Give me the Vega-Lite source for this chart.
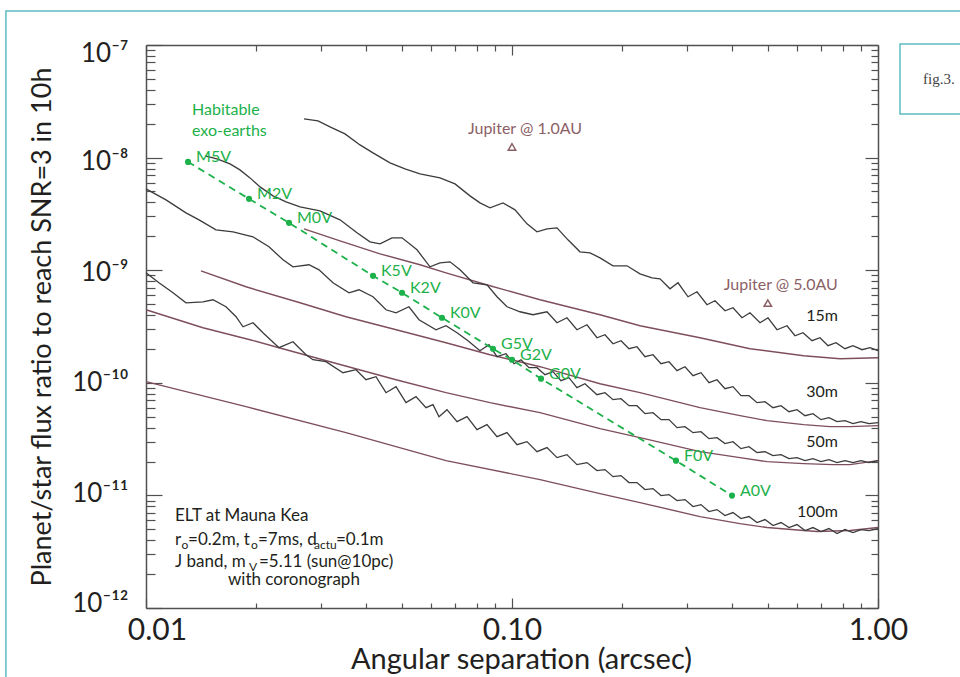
{
"$schema": "https://vega.github.io/schema/vega-lite/v6.json",
"width": 732, "height": 563,
"autosize": {"type": "none"},
"padding": {"left": 146, "top": 45, "right": 82, "bottom": 69},
"background": "white",
"config": {"view": {"stroke": null}, "font": "Lato"},
"datasets": {
"black": [
{"t":"15m","x":0.02702,"y":2.205e-8},{"t":"15m","x":0.02951,"y":2.117e-8},{"t":"15m","x":0.03182,"y":1.873e-8},{"t":"15m","x":0.03497,"y":1.623e-8},{"t":"15m","x":0.03843,"y":1.296e-8},{"t":"15m","x":0.04171,"y":1.101e-8},{"t":"15m","x":0.04642,"y":8.974e-9},{"t":"15m","x":0.05101,"y":7.939e-9},{"t":"15m","x":0.05606,"y":7.168e-9},{"t":"15m","x":0.06357,"y":6.605e-9},{"t":"15m","x":0.06987,"y":5.843e-9},{"t":"15m","x":0.07677,"y":4.573e-9},{"t":"15m","x":0.08176,"y":3.963e-9},{"t":"15m","x":0.08707,"y":3.578e-9},{"t":"15m","x":0.09449,"y":3.963e-9},{"t":"15m","x":0.10191,"y":3.435e-9},{"t":"15m","x":0.1099,"y":2.581e-9},{"t":"15m","x":0.11703,"y":2.192e-9},{"t":"15m","x":0.12463,"y":2.33e-9},{"t":"15m","x":0.13271,"y":2.378e-9},{"t":"15m","x":0.1422,"y":1.861e-9},{"t":"15m","x":0.15335,"y":1.456e-9},{"t":"15m","x":0.16332,"y":1.427e-9},{"t":"15m","x":0.17396,"y":1.288e-9},{"t":"15m","x":0.18877,"y":1.094e-9},{"t":"15m","x":0.20617,"y":1.094e-9},{"t":"15m","x":0.22373,"y":9.291e-10},{"t":"15m","x":0.24128,"y":8.562e-10},{"t":"15m","x":0.25375,"y":8.389e-10},{"t":"15m","x":0.27021,"y":6.839e-10},{"t":"15m","x":0.28417,"y":7.731e-10},{"t":"15m","x":0.30261,"y":5.808e-10},{"t":"15m","x":0.32025,"y":6.432e-10},{"t":"15m","x":0.34104,"y":4.932e-10},{"t":"15m","x":0.35862,"y":5.352e-10},{"t":"15m","x":0.38192,"y":4.363e-10},{"t":"15m","x":0.40163,"y":4.639e-10},{"t":"15m","x":0.425,"y":3.782e-10},{"t":"15m","x":0.44696,"y":4.188e-10},{"t":"15m","x":0.47602,"y":3.414e-10},{"t":"15m","x":0.50056,"y":3.782e-10},{"t":"15m","x":0.52975,"y":2.959e-10},{"t":"15m","x":0.56414,"y":3.211e-10},{"t":"15m","x":0.59326,"y":2.618e-10},{"t":"15m","x":0.62389,"y":2.783e-10},{"t":"15m","x":0.66019,"y":2.364e-10},{"t":"15m","x":0.6943,"y":2.513e-10},{"t":"15m","x":0.73016,"y":2.134e-10},{"t":"15m","x":0.76772,"y":2.269e-10},{"t":"15m","x":0.81253,"y":2.007e-10},{"t":"15m","x":0.85447,"y":2.134e-10},{"t":"15m","x":0.90429,"y":1.967e-10},{"t":"15m","x":0.95095,"y":2.049e-10},{"t":"15m","x":1.0,"y":1.927e-10},
{"t":"30m","x":0.0145,"y":1.035e-8},{"t":"30m","x":0.01563,"y":9.763e-9},{"t":"30m","x":0.01696,"y":8.793e-9},{"t":"30m","x":0.01806,"y":7.778e-9},{"t":"30m","x":0.01924,"y":6.605e-9},{"t":"30m","x":0.02049,"y":5.495e-9},{"t":"30m","x":0.02224,"y":4.573e-9},{"t":"30m","x":0.02414,"y":4.045e-9},{"t":"30m","x":0.02635,"y":3.652e-9},{"t":"30m","x":0.02988,"y":3.366e-9},{"t":"30m","x":0.03389,"y":2.8e-9},{"t":"30m","x":0.03771,"y":2.147e-9},{"t":"30m","x":0.04092,"y":1.787e-9},{"t":"30m","x":0.04359,"y":1.715e-9},{"t":"30m","x":0.04701,"y":1.939e-9},{"t":"30m","x":0.05006,"y":1.939e-9},{"t":"30m","x":0.05501,"y":1.517e-9},{"t":"30m","x":0.05969,"y":1.072e-9},{"t":"30m","x":0.06357,"y":1.163e-9},{"t":"30m","x":0.0677,"y":1.187e-9},{"t":"30m","x":0.07211,"y":1.008e-9},{"t":"30m","x":0.07824,"y":7.731e-10},{"t":"30m","x":0.08545,"y":7.421e-10},{"t":"30m","x":0.09099,"y":5.808e-10},{"t":"30m","x":0.0969,"y":4.735e-10},{"t":"30m","x":0.10516,"y":4.275e-10},{"t":"30m","x":0.11412,"y":4.021e-10},{"t":"30m","x":0.12463,"y":4.275e-10},{"t":"30m","x":0.13271,"y":3.414e-10},{"t":"30m","x":0.14131,"y":3.782e-10},{"t":"30m","x":0.15048,"y":2.959e-10},{"t":"30m","x":0.16027,"y":3.278e-10},{"t":"30m","x":0.17067,"y":2.513e-10},{"t":"30m","x":0.1795,"y":2.672e-10},{"t":"30m","x":0.18877,"y":2.223e-10},{"t":"30m","x":0.19853,"y":2.364e-10},{"t":"30m","x":0.20872,"y":2.007e-10},{"t":"30m","x":0.2195,"y":2.091e-10},{"t":"30m","x":0.23087,"y":1.705e-10},{"t":"30m","x":0.24279,"y":1.776e-10},{"t":"30m","x":0.25532,"y":1.477e-10},{"t":"30m","x":0.26851,"y":1.539e-10},{"t":"30m","x":0.28237,"y":1.281e-10},{"t":"30m","x":0.29696,"y":1.39e-10},{"t":"30m","x":0.31228,"y":1.156e-10},{"t":"30m","x":0.3284,"y":1.229e-10},{"t":"30m","x":0.34534,"y":1.002e-10},{"t":"30m","x":0.36317,"y":1.065e-10},{"t":"30m","x":0.38192,"y":8.865e-11},{"t":"30m","x":0.40163,"y":9.235e-11},{"t":"30m","x":0.42236,"y":7.684e-11},{"t":"30m","x":0.44417,"y":7.684e-11},{"t":"30m","x":0.4671,"y":6.66e-11},{"t":"30m","x":0.49121,"y":6.797e-11},{"t":"30m","x":0.51656,"y":6.013e-11},{"t":"30m","x":0.54321,"y":6.264e-11},{"t":"30m","x":0.57124,"y":5.541e-11},{"t":"30m","x":0.60073,"y":5.772e-11},{"t":"30m","x":0.63176,"y":5.106e-11},{"t":"30m","x":0.66436,"y":5.319e-11},{"t":"30m","x":0.69866,"y":4.706e-11},{"t":"30m","x":0.73471,"y":4.902e-11},{"t":"30m","x":0.77263,"y":4.517e-11},{"t":"30m","x":0.81253,"y":4.61e-11},{"t":"30m","x":0.85447,"y":4.336e-11},{"t":"30m","x":0.89855,"y":4.517e-11},{"t":"30m","x":0.94493,"y":4.336e-11},{"t":"30m","x":1.0,"y":4.426e-11},
{"t":"50m","x":0.01,"y":5.276e-9},{"t":"50m","x":0.01134,"y":4.214e-9},{"t":"50m","x":0.01286,"y":3.231e-9},{"t":"50m","x":0.01396,"y":2.8e-9},{"t":"50m","x":0.01553,"y":2.283e-9},{"t":"50m","x":0.01729,"y":2.192e-9},{"t":"50m","x":0.0196,"y":1.979e-9},{"t":"50m","x":0.02168,"y":1.613e-9},{"t":"50m","x":0.02368,"y":1.237e-9},{"t":"50m","x":0.02521,"y":1.072e-9},{"t":"50m","x":0.02788,"y":1.117e-9},{"t":"50m","x":0.0297,"y":1.008e-9},{"t":"50m","x":0.03242,"y":7.731e-10},{"t":"50m","x":0.03586,"y":6.302e-10},{"t":"50m","x":0.03819,"y":6.701e-10},{"t":"50m","x":0.04171,"y":5.808e-10},{"t":"50m","x":0.04526,"y":4.453e-10},{"t":"50m","x":0.04821,"y":4.188e-10},{"t":"50m","x":0.0523,"y":4.735e-10},{"t":"50m","x":0.05571,"y":3.63e-10},{"t":"50m","x":0.06199,"y":2.959e-10},{"t":"50m","x":0.06602,"y":3.211e-10},{"t":"50m","x":0.07076,"y":2.783e-10},{"t":"50m","x":0.07581,"y":2.364e-10},{"t":"50m","x":0.08176,"y":1.927e-10},{"t":"50m","x":0.08653,"y":2.178e-10},{"t":"50m","x":0.09099,"y":1.705e-10},{"t":"50m","x":0.09629,"y":1.812e-10},{"t":"50m","x":0.10127,"y":1.477e-10},{"t":"50m","x":0.10582,"y":1.603e-10},{"t":"50m","x":0.11129,"y":1.362e-10},{"t":"50m","x":0.11703,"y":1.362e-10},{"t":"50m","x":0.12307,"y":1.18e-10},{"t":"50m","x":0.12942,"y":1.255e-10},{"t":"50m","x":0.13609,"y":1.044e-10},{"t":"50m","x":0.1431,"y":1.11e-10},{"t":"50m","x":0.15048,"y":9.048e-11},{"t":"50m","x":0.15827,"y":9.818e-11},{"t":"50m","x":0.17067,"y":7.842e-11},{"t":"50m","x":0.1795,"y":8.169e-11},{"t":"50m","x":0.18877,"y":7.08e-11},{"t":"50m","x":0.19853,"y":7.227e-11},{"t":"50m","x":0.20872,"y":6.264e-11},{"t":"50m","x":0.2195,"y":6.264e-11},{"t":"50m","x":0.23087,"y":5.319e-11},{"t":"50m","x":0.24279,"y":5.429e-11},{"t":"50m","x":0.25532,"y":4.706e-11},{"t":"50m","x":0.26851,"y":4.706e-11},{"t":"50m","x":0.28237,"y":3.996e-11},{"t":"50m","x":0.29696,"y":4.078e-11},{"t":"50m","x":0.31228,"y":3.608e-11},{"t":"50m","x":0.3284,"y":3.683e-11},{"t":"50m","x":0.34534,"y":3.192e-11},{"t":"50m","x":0.36317,"y":3.258e-11},{"t":"50m","x":0.38192,"y":2.882e-11},{"t":"50m","x":0.40163,"y":3.002e-11},{"t":"50m","x":0.42236,"y":2.602e-11},{"t":"50m","x":0.44417,"y":2.71e-11},{"t":"50m","x":0.4671,"y":2.398e-11},{"t":"50m","x":0.49121,"y":2.447e-11},{"t":"50m","x":0.51656,"y":2.255e-11},{"t":"50m","x":0.54321,"y":2.302e-11},{"t":"50m","x":0.57124,"y":2.121e-11},{"t":"50m","x":0.60073,"y":2.165e-11},{"t":"50m","x":0.63176,"y":2.036e-11},{"t":"50m","x":0.66436,"y":2.121e-11},{"t":"50m","x":0.69866,"y":1.995e-11},{"t":"50m","x":0.73471,"y":2.078e-11},{"t":"50m","x":0.77263,"y":1.955e-11},{"t":"50m","x":0.81253,"y":2.036e-11},{"t":"50m","x":0.85447,"y":1.955e-11},{"t":"50m","x":0.89855,"y":2.036e-11},{"t":"50m","x":0.94493,"y":1.955e-11},{"t":"50m","x":1.0,"y":2.036e-11},
{"t":"100m","x":0.01,"y":9.483e-10},{"t":"100m","x":0.01085,"y":7.731e-10},{"t":"100m","x":0.01185,"y":6.302e-10},{"t":"100m","x":0.01286,"y":5.137e-10},{"t":"100m","x":0.01431,"y":5.243e-10},{"t":"100m","x":0.01524,"y":5.462e-10},{"t":"100m","x":0.01654,"y":4.735e-10},{"t":"100m","x":0.01762,"y":3.86e-10},{"t":"100m","x":0.01841,"y":3.146e-10},{"t":"100m","x":0.0196,"y":3.414e-10},{"t":"100m","x":0.02087,"y":2.783e-10},{"t":"100m","x":0.02309,"y":2.049e-10},{"t":"100m","x":0.02521,"y":2.316e-10},{"t":"100m","x":0.02736,"y":1.776e-10},{"t":"100m","x":0.02859,"y":1.603e-10},{"t":"100m","x":0.03103,"y":1.539e-10},{"t":"100m","x":0.03453,"y":1.229e-10},{"t":"100m","x":0.03748,"y":1.307e-10},{"t":"100m","x":0.03991,"y":1.065e-10},{"t":"100m","x":0.0425,"y":1.133e-10},{"t":"100m","x":0.04526,"y":8.169e-11},{"t":"100m","x":0.04821,"y":9.235e-11},{"t":"100m","x":0.05133,"y":6.66e-11},{"t":"100m","x":0.05466,"y":7.528e-11},{"t":"100m","x":0.05821,"y":6.013e-11},{"t":"100m","x":0.06083,"y":6.393e-11},{"t":"100m","x":0.06318,"y":5.003e-11},{"t":"100m","x":0.06644,"y":5.772e-11},{"t":"100m","x":0.07076,"y":4.517e-11},{"t":"100m","x":0.07534,"y":5.003e-11},{"t":"100m","x":0.08023,"y":3.836e-11},{"t":"100m","x":0.08545,"y":4.249e-11},{"t":"100m","x":0.09099,"y":3.325e-11},{"t":"100m","x":0.0969,"y":3.608e-11},{"t":"100m","x":0.10319,"y":2.823e-11},{"t":"100m","x":0.1099,"y":3.002e-11},{"t":"100m","x":0.11703,"y":2.447e-11},{"t":"100m","x":0.12463,"y":2.656e-11},{"t":"100m","x":0.13271,"y":2.165e-11},{"t":"100m","x":0.14131,"y":2.302e-11},{"t":"100m","x":0.15048,"y":1.876e-11},{"t":"100m","x":0.16027,"y":1.955e-11},{"t":"100m","x":0.17067,"y":1.66e-11},{"t":"100m","x":0.1795,"y":1.694e-11},{"t":"100m","x":0.18877,"y":1.468e-11},{"t":"100m","x":0.19853,"y":1.499e-11},{"t":"100m","x":0.20872,"y":1.299e-11},{"t":"100m","x":0.2195,"y":1.299e-11},{"t":"100m","x":0.23087,"y":1.126e-11},{"t":"100m","x":0.24279,"y":1.149e-11},{"t":"100m","x":0.25532,"y":9.96e-12},{"t":"100m","x":0.26851,"y":1.017e-11},{"t":"100m","x":0.28237,"y":8.993e-12},{"t":"100m","x":0.29696,"y":9.178e-12},{"t":"100m","x":0.31228,"y":7.955e-12},{"t":"100m","x":0.3284,"y":8.287e-12},{"t":"100m","x":0.34534,"y":7.183e-12},{"t":"100m","x":0.36317,"y":7.482e-12},{"t":"100m","x":0.38192,"y":6.619e-12},{"t":"100m","x":0.40163,"y":7.037e-12},{"t":"100m","x":0.42236,"y":6.226e-12},{"t":"100m","x":0.44417,"y":6.485e-12},{"t":"100m","x":0.4671,"y":5.737e-12},{"t":"100m","x":0.49121,"y":6.1e-12},{"t":"100m","x":0.51656,"y":5.396e-12},{"t":"100m","x":0.54321,"y":5.737e-12},{"t":"100m","x":0.57124,"y":5.18e-12},{"t":"100m","x":0.60073,"y":5.507e-12},{"t":"100m","x":0.63176,"y":4.872e-12},{"t":"100m","x":0.66436,"y":5.18e-12},{"t":"100m","x":0.69866,"y":4.773e-12},{"t":"100m","x":0.73471,"y":5.075e-12},{"t":"100m","x":0.77263,"y":4.582e-12},{"t":"100m","x":0.81253,"y":4.973e-12},{"t":"100m","x":0.85447,"y":4.677e-12},{"t":"100m","x":0.89855,"y":4.973e-12},{"t":"100m","x":0.94493,"y":4.872e-12},{"t":"100m","x":1.0,"y":5.075e-12}
],
"maroon": [
{"t":"15m","x":0.02702,"y":2.33e-9},{"t":"15m","x":0.03389,"y":1.823e-9},{"t":"15m","x":0.04359,"y":1.398e-9},{"t":"15m","x":0.05606,"y":1.117e-9},{"t":"15m","x":0.06602,"y":9.483e-10},{"t":"15m","x":0.08707,"y":7.271e-10},{"t":"15m","x":0.11926,"y":5.462e-10},{"t":"15m","x":0.17396,"y":4.021e-10},{"t":"15m","x":0.22373,"y":3.211e-10},{"t":"15m","x":0.32635,"y":2.513e-10},{"t":"15m","x":0.44696,"y":2.007e-10},{"t":"15m","x":0.62649,"y":1.74e-10},{"t":"15m","x":0.78741,"y":1.636e-10},{"t":"15m","x":1.0,"y":1.67e-10},
{"t":"30m","x":0.01413,"y":9.879e-10},{"t":"30m","x":0.01876,"y":7.124e-10},{"t":"30m","x":0.02635,"y":5.137e-10},{"t":"30m","x":0.03519,"y":3.86e-10},{"t":"30m","x":0.04944,"y":2.899e-10},{"t":"30m","x":0.06602,"y":2.269e-10},{"t":"30m","x":0.08707,"y":1.776e-10},{"t":"30m","x":0.11926,"y":1.39e-10},{"t":"30m","x":0.17396,"y":9.818e-11},{"t":"30m","x":0.22373,"y":8.169e-11},{"t":"30m","x":0.32635,"y":6.013e-11},{"t":"30m","x":0.41973,"y":5.106e-11},{"t":"30m","x":0.49745,"y":4.61e-11},{"t":"30m","x":0.62649,"y":4.249e-11},{"t":"30m","x":0.73937,"y":4.078e-11},{"t":"30m","x":0.83854,"y":4.078e-11},{"t":"30m","x":1.0,"y":4.163e-11},
{"t":"50m","x":0.01,"y":4.453e-10},{"t":"50m","x":0.01431,"y":3.083e-10},{"t":"50m","x":0.01924,"y":2.412e-10},{"t":"50m","x":0.02309,"y":2.049e-10},{"t":"50m","x":0.03182,"y":1.539e-10},{"t":"50m","x":0.04821,"y":1.065e-10},{"t":"50m","x":0.06602,"y":8.169e-11},{"t":"50m","x":0.08707,"y":6.66e-11},{"t":"50m","x":0.11926,"y":5.429e-11},{"t":"50m","x":0.17396,"y":3.915e-11},{"t":"50m","x":0.22373,"y":3.258e-11},{"t":"50m","x":0.32635,"y":2.447e-11},{"t":"50m","x":0.41973,"y":2.165e-11},{"t":"50m","x":0.49745,"y":1.995e-11},{"t":"50m","x":0.62649,"y":1.915e-11},{"t":"50m","x":0.7534,"y":1.876e-11},{"t":"50m","x":0.83854,"y":1.876e-11},{"t":"50m","x":1.0,"y":2.036e-11},
{"t":"100m","x":0.01,"y":1.023e-10},{"t":"100m","x":0.01876,"y":6.137e-11},{"t":"100m","x":0.03519,"y":3.608e-11},{"t":"100m","x":0.06602,"y":2.036e-11},{"t":"100m","x":0.11926,"y":1.381e-11},{"t":"100m","x":0.17396,"y":1.038e-11},{"t":"100m","x":0.22373,"y":8.633e-12},{"t":"100m","x":0.32635,"y":6.485e-12},{"t":"100m","x":0.41973,"y":5.621e-12},{"t":"100m","x":0.49745,"y":5.18e-12},{"t":"100m","x":0.62649,"y":4.872e-12},{"t":"100m","x":0.68132,"y":4.773e-12},{"t":"100m","x":0.83854,"y":4.872e-12},{"t":"100m","x":1.0,"y":5.18e-12}
],
"stars": [
{"type":"M5V","x":0.01303,"y":9.159e-9},{"type":"M2V","x":0.01912,"y":4.301e-9},{"type":"M0V","x":0.02459,"y":2.634e-9},{"type":"K5V","x":0.04171,"y":8.919e-10},{"type":"K2V","x":0.05006,"y":6.302e-10},{"type":"K0V","x":0.06437,"y":3.782e-10},{"type":"G5V","x":0.08873,"y":2.007e-10},{"type":"G2V","x":0.1,"y":1.603e-10},{"type":"G0V","x":0.12002,"y":1.088e-10},{"type":"F0V","x":0.2806,"y":2.036e-11},{"type":"A0V","x":0.39911,"y":9.96e-12}
],
"habitable": [{"text":"Habitable","x":0.013356,"y":2.65e-8},{"text":"exo-earths","x":0.013356,"y":1.726e-8}],
"jupiter": [{"label":"Jupiter @ 1.0AU","x":0.1,"y":1.244e-8},{"label":"Jupiter @ 5.0AU","x":0.5,"y":5.1e-10}],
"telescopes": [{"label":"15m","x":0.7775,"y":3.899e-10},{"label":"30m","x":0.7775,"y":8.253e-11},{"label":"50m","x":0.7775,"y":2.971e-11},{"label":"100m","x":0.7775,"y":7.11e-12}],
"notes": [
{"text":"ELT at Mauna Kea","x":0.012,"y":6.552e-12},
{"text":"r","x":0.012,"y":4.054e-12},{"text":"=0.2m, t","x":0.01303,"y":4.054e-12},{"text":"=7ms, d","x":0.02023,"y":4.054e-12},{"text":"=0.1m","x":0.033049,"y":4.054e-12},
{"text":"J band, m","x":0.012,"y":2.586e-12},{"text":"=5.11 (sun@10pc)","x":0.020357,"y":2.586e-12},
{"text":"with coronograph","x":0.016749,"y":1.79e-12}
],
"subs": [{"text":"o","x":0.012501,"y":3.66e-12},{"text":"o","x":0.019357,"y":3.66e-12},{"text":"actu","x":0.028774,"y":3.66e-12},{"text":"V","x":0.01912,"y":2.335e-12}],
"frame": [{"x":0.0041428,"x2":1.85,"y":2.003e-7,"y2":1.542e-13},{"x":1.1485,"x2":1.7838,"y":1.0206e-7,"y2":2.442e-8}],
"figlabel": [{"text":"fig.3.","x":1.327,"y":4.993e-8}]
},
"layer": [
{
"encoding": {
"x": {"field": "x", "type": "quantitative", "scale": {"type": "log", "domain": [0.01, 1], "nice": false},
"axis": {"orient": "bottom", "values": [0.01,0.02,0.03,0.04,0.05,0.06,0.07,0.08,0.09,0.1,0.2,0.3,0.4,0.5,0.6,0.7,0.8,0.9,1],
"labelExpr": "abs(datum.value-0.01)<1e-6 ? '0.01' : abs(datum.value-0.1)<1e-6 ? '0.10' : abs(datum.value-1)<1e-6 ? '1.00' : ''",
"grid": false, "domainColor": "#505050", "domainWidth": 1.5, "tickColor": "#505050", "tickWidth": 1.2,
"tickSize": {"condition": {"test": "abs(log(datum.value)/LN10 - round(log(datum.value)/LN10)) < 0.01", "value": -10}, "value": -5},
"labelOffset": {"condition": {"test": "datum.value < 0.015", "value": 11}, "value": 0},
"labelPadding": 17, "labelFontSize": 30, "labelFont": "Lato", "labelColor": "#231f20", "labelOverlap": false, "labelFlush": false, "labelBound": false,
"title": "Angular separation (arcsec)", "titleFont": "Lato", "titleFontSize": 29, "titleFontWeight": "normal", "titleColor": "#231f20",
"titleBaseline": "alphabetic", "titleY": 60, "titleX": 375, "titleAlign": "center"}},
"y": {"field": "y", "type": "quantitative", "scale": {"type": "log", "domain": [1e-12, 1e-7], "nice": false},
"axis": {"orient": "left", "values": [1e-12,2e-12,3e-12,4e-12,5e-12,6e-12,7e-12,8e-12,9e-12,1e-11,2e-11,3e-11,4e-11,5e-11,6e-11,7e-11,8e-11,9e-11,1e-10,2e-10,3e-10,4e-10,5e-10,6e-10,7e-10,8e-10,9e-10,1e-9,2e-9,3e-9,4e-9,5e-9,6e-9,7e-9,8e-9,9e-9,1e-8,2e-8,3e-8,4e-8,5e-8,6e-8,7e-8,8e-8,9e-8,1e-7],
"labelExpr": "abs(datum.value/1e-7-1)<1e-6 ? '10⁻⁷' : abs(datum.value/1e-8-1)<1e-6 ? '10⁻⁸' : abs(datum.value/1e-9-1)<1e-6 ? '10⁻⁹' : abs(datum.value/1e-10-1)<1e-6 ? '10⁻¹⁰' : abs(datum.value/1e-11-1)<1e-6 ? '10⁻¹¹' : abs(datum.value/1e-12-1)<1e-6 ? '10⁻¹²' : ''",
"grid": false, "domainColor": "#505050", "domainWidth": 1.5, "tickColor": "#505050", "tickWidth": 1.2,
"tickSize": {"condition": {"test": "abs(log(datum.value)/LN10 - round(log(datum.value)/LN10)) < 0.01", "value": -16}, "value": -9},
"labelOffset": {"condition": [{"test": "datum.value > 5e-8", "value": 8}, {"test": "datum.value > 5e-9", "value": 4}, {"test": "datum.value > 5e-10", "value": 2}, {"test": "datum.value < 5e-12", "value": -5}, {"test": "datum.value < 5e-11", "value": -2}], "value": 0},
"labelPadding": 34, "labelFontSize": 26, "labelFont": "Lato", "labelColor": "#231f20", "labelOverlap": false, "labelBound": false, "labelFlush": false,
"title": "Planet/star flux ratio to reach SNR=3 in 10h", "titleFont": "Lato", "titleFontSize": 27, "titleFontWeight": "normal", "titleColor": "#231f20", "titlePadding": 15}}
},
"layer": [
{"data": {"name": "frame"}, "mark": {"type": "rect", "filled": false, "color": "#5cbcc4", "strokeWidth": 1.5},
 "encoding": {"x2": {"field": "x2"}, "y2": {"field": "y2"}}},
{"data": {"name": "figlabel"}, "mark": {"type": "text", "align": "left", "baseline": "middle", "font": "Liberation Serif", "fontSize": 15, "color": "#444444"},
 "encoding": {"text": {"field": "text"}}},
{"data": {"name": "maroon"}, "mark": {"type": "line", "color": "#7e4f5b", "strokeWidth": 1.4},
 "encoding": {"detail": {"field": "t"}}},
{"data": {"name": "black"}, "mark": {"type": "line", "color": "#3c3c3c", "strokeWidth": 1.3},
 "encoding": {"detail": {"field": "t"}}},
{"data": {"name": "stars"}, "mark": {"type": "line", "color": "#1db14b", "strokeWidth": 1.8, "strokeDash": [7, 5]}, "encoding": {}},
{"data": {"name": "stars"}, "mark": {"type": "point", "filled": true, "color": "#1db14b", "opacity": 1, "size": 38}},
{"data": {"name": "stars"}, "mark": {"type": "text", "align": "left", "baseline": "middle", "dx": 8, "dy": -5, "fontSize": 16, "font": "Lato", "color": "#1db14b"},
 "encoding": {"text": {"field": "type"}}},
{"data": {"name": "habitable"}, "mark": {"type": "text", "align": "left", "baseline": "middle", "fontSize": 16, "font": "Lato", "color": "#1db14b"},
 "encoding": {"text": {"field": "text"}}},
{"data": {"name": "jupiter"}, "mark": {"type": "point", "shape": "triangle-up", "filled": false, "color": "#8c5f66", "opacity": 1, "size": 55, "strokeWidth": 1.5}},
{"data": {"name": "jupiter"}, "mark": {"type": "text", "align": "center", "baseline": "middle", "dx": 13, "dy": -18, "fontSize": 16, "font": "Lato", "color": "#8c5f66"},
 "encoding": {"text": {"field": "label"}}},
{"data": {"name": "telescopes"}, "mark": {"type": "text", "align": "right", "baseline": "middle", "fontSize": 16, "font": "Lato", "color": "#231f20"},
 "encoding": {"text": {"field": "label"}}},
{"data": {"name": "notes"}, "mark": {"type": "text", "align": "left", "baseline": "middle", "fontSize": 17, "font": "Lato", "color": "#231f20"},
 "encoding": {"text": {"field": "text"}}},
{"data": {"name": "subs"}, "mark": {"type": "text", "align": "left", "baseline": "middle", "fontSize": 12, "font": "Lato", "color": "#231f20"},
 "encoding": {"text": {"field": "text"}}}
]
},
{
"data": {"values": [{"x": 0.1, "y": 1e-9}]},
"mark": {"type": "point", "opacity": 0},
"encoding": {
"x": {"field": "x", "type": "quantitative", "scale": {"type": "log", "domain": [0.01, 1], "nice": false},
"axis": {"orient": "top", "values": [0.01,0.02,0.03,0.04,0.05,0.06,0.07,0.08,0.09,0.1,0.2,0.3,0.4,0.5,0.6,0.7,0.8,0.9,1], "labels": false, "title": null, "grid": false,
"domainColor": "#505050", "domainWidth": 1.5, "tickColor": "#505050", "tickWidth": 1.2,
"tickSize": {"condition": {"test": "abs(log(datum.value)/LN10 - round(log(datum.value)/LN10)) < 0.01", "value": -10}, "value": -6}}},
"y": {"field": "y", "type": "quantitative", "scale": {"type": "log", "domain": [1e-12, 1e-7], "nice": false},
"axis": {"orient": "right", "values": [1e-12,2e-12,3e-12,4e-12,5e-12,6e-12,7e-12,8e-12,9e-12,1e-11,2e-11,3e-11,4e-11,5e-11,6e-11,7e-11,8e-11,9e-11,1e-10,2e-10,3e-10,4e-10,5e-10,6e-10,7e-10,8e-10,9e-10,1e-9,2e-9,3e-9,4e-9,5e-9,6e-9,7e-9,8e-9,9e-9,1e-8,2e-8,3e-8,4e-8,5e-8,6e-8,7e-8,8e-8,9e-8,1e-7], "labels": false, "title": null, "grid": false,
"domainColor": "#505050", "domainWidth": 1.5, "tickColor": "#505050", "tickWidth": 1.2,
"tickSize": {"condition": {"test": "abs(log(datum.value)/LN10 - round(log(datum.value)/LN10)) < 0.01", "value": -13}, "value": -7}}}
}
}
],
"resolve": {"axis": {"x": "independent", "y": "independent"}}
}
